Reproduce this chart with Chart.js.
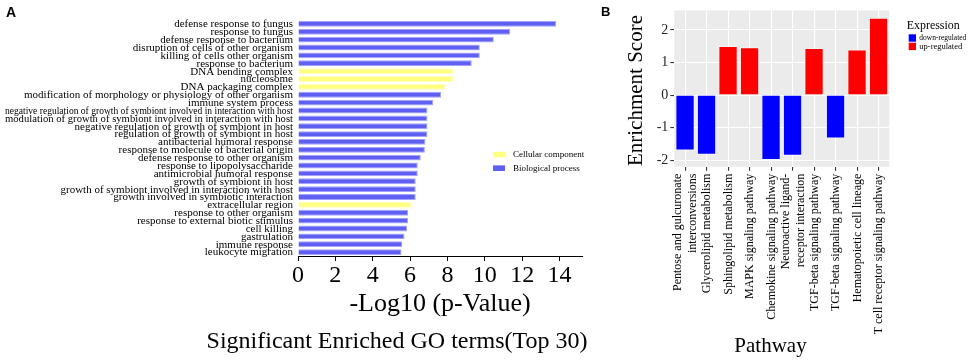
<!DOCTYPE html>
<html><head><meta charset="utf-8">
<script src="https://cdn.jsdelivr.net/npm/chart.js@4.4.1/dist/chart.umd.min.js"></script>
<style>
html,body{margin:0;padding:0;background:#fff;}
#wrap{position:relative;width:970px;height:360px;overflow:hidden;background:#fff;}
#cA{position:absolute;left:0;top:0;}
#cB{position:absolute;left:590px;top:0;}
</style></head><body>
<div id="wrap">
<canvas id="cA" width="590" height="360"></canvas>
<canvas id="cB" width="380" height="360"></canvas>
</div>
<script>
// ---------- Panel A data ----------
const goTerms = [
  "defense response to fungus",
  "response to fungus",
  "defense response to bacterium",
  "disruption of cells of other organism",
  "killing of cells other organism",
  "response to bacterium",
  "DNA bending complex",
  "nucleosome",
  "DNA packaging complex",
  "modification of morphology or physiology of other organism",
  "immune system process",
  "negative regulation of growth of symbiont involved in interaction with host",
  "modulation of growth of symbiont involved in interaction with host",
  "negative regulation of growth of symbiont in host",
  "regulation of growth of symbiont in host",
  "antibacterial humoral response",
  "response to molecule of bacterial origin",
  "defense response to other organism",
  "response to lipopolysaccharide",
  "antimicrobial humoral response",
  "growth of symbiont in host",
  "growth of symbiont involved in interaction with host",
  "growth involved in symbiotic interaction",
  "extracellular region",
  "response to other organism",
  "response to external biotic stimulus",
  "cell killing",
  "gastrulation",
  "immune response",
  "leukocyte migration"
];
const goValues = [13.82, 11.36, 10.48, 9.73, 9.73, 9.30, 8.29, 8.29, 7.88, 7.66,
  7.23, 6.93, 6.93, 6.93, 6.93, 6.82, 6.79, 6.57, 6.41, 6.41,
  6.30, 6.30, 6.30, 6.05, 5.89, 5.89, 5.84, 5.70, 5.57, 5.54];
const goCategories = ["BP","BP","BP","BP","BP","BP","CC","CC","CC","BP",
  "BP","BP","BP","BP","BP","BP","BP","BP","BP","BP",
  "BP","BP","BP","CC","BP","BP","BP","BP","BP","BP"];
const goLegend = [["CC","Cellular component"],["BP","Biological process"]];
const xTicksA = [0, 2, 4, 6, 8, 10, 12, 14];

// ---------- Panel B data ----------
const pathways = [
  ["Pentose and gulcuronate", "interconversions"],
  "Glycerolipid metabolism",
  "Sphingolipid metabolism",
  "MAPK signaling pathway",
  "Chemokine signaling pathway",
  ["Neuroactive ligand-", "receptor interaction"],
  "TGF-beta signaling pathway",
  "TGF-beta signaling pathway",
  "Hematopoietic cell lineage",
  "T cell receptor signaling pathway"
];
const enrichmentScores = [-1.70, -1.83, 1.50, 1.46, -1.99, -1.86, 1.44, -1.33, 1.39, 2.37];
const expression = ["down","down","up","up","down","down","up","down","up","up"];
const expressionLegend = [["down","down-regulated"],["up","up-regulated"]];
const yTicksB = [-2, -1.5, -1, -0.5, 0, 0.5, 1, 1.5, 2, 2.5];

const COL = { BP: "#5f5ff4", CC: "#ffff80", down: "#0000ff", up: "#ff0000" };
const BORDER = { BP: "#a3a3ff", CC: "#ffffb8" };
const SERIF = '"Liberation Serif", "Times New Roman", serif';
const SANS = '"Liberation Sans", Arial, sans-serif';

// ---------- Panel A ----------
const pluginA = {
  id: "pluginA",
  afterDraw(chart) {
    const ctx = chart.ctx, ys = chart.scales.y, area = chart.chartArea;
    ctx.save();
    ctx.font = "11px " + SERIF;
    ctx.fillStyle = "#000";
    ctx.textAlign = "right";
    ctx.textBaseline = "middle";
    goTerms.forEach((t, i) => {
      ctx.fillText(t, area.left - 5, ys.getPixelForValue(i) + 0.5, area.left - 10);
    });
    ctx.textAlign = "left";
    ctx.font = "9px " + SERIF;
    goLegend.forEach(([k, name], i) => {
      const y = 154.5 + i * 13.7;
      ctx.fillStyle = COL[k];
      ctx.fillRect(493, y - 2.8, 12, 5.6);
      ctx.fillStyle = "#000";
      ctx.fillText(name, 513, y + 0.5);
    });
    ctx.textAlign = "center";
    ctx.textBaseline = "middle";
    ctx.font = "24px " + SERIF;
    ctx.fillText("Significant Enriched GO terms(Top 30)", 397, 342);
    ctx.textAlign = "left";
    ctx.textBaseline = "alphabetic";
    ctx.font = "bold 14px " + SANS;
    ctx.fillText("A", 6, 17);
    ctx.restore();
  }
};

new Chart(document.getElementById("cA"), {
  type: "bar",
  data: {
    labels: goTerms,
    datasets: [{
      data: goValues,
      backgroundColor: goCategories.map(c => COL[c]),
      borderColor: goCategories.map(c => BORDER[c]),
      borderWidth: 1,
      barPercentage: 0.74,
      categoryPercentage: 1
    }]
  },
  options: {
    indexAxis: "y",
    responsive: false,
    animation: false,
    layout: { padding: { left: 298, right: 8, top: 20, bottom: 36 } },
    plugins: { legend: { display: false }, tooltip: { enabled: false } },
    scales: {
      y: { display: false },
      x: {
        min: 0, max: 15.2,
        afterBuildTicks: s => { s.ticks = xTicksA.map(v => ({ value: v })); },
        ticks: { font: { family: SERIF, size: 24 }, color: "#000", padding: 0,
                 callback: v => String(v) },
        grid: { drawOnChartArea: false, drawTicks: true, tickLength: 5, color: "#000", lineWidth: 1 },
        border: { color: "#000", width: 1 },
        title: { display: true, text: "-Log10 (p-Value)", color: "#000",
                 font: { family: SERIF, size: 26 }, padding: { top: 0, bottom: 4 } },
        afterFit: s => { s.height = 68; }
      }
    }
  },
  plugins: [pluginA]
});

// ---------- Panel B ----------
const pluginB = {
  id: "pluginB",
  beforeDraw(chart) {
    const ctx = chart.ctx, a = chart.chartArea;
    ctx.save();
    ctx.fillStyle = "#ebebeb";
    ctx.fillRect(a.left, a.top, a.right - a.left, a.bottom - a.top);
    ctx.restore();
  },
  afterDraw(chart) {
    const ctx = chart.ctx, a = chart.chartArea, xs = chart.scales.x;
    ctx.save();
    ctx.fillStyle = "#000";
    ctx.font = "12px " + SERIF;
    ctx.textAlign = "right";
    ctx.textBaseline = "middle";
    const lh = 15;
    pathways.forEach((lab, i) => {
      const lines = Array.isArray(lab) ? lab : [lab];
      const cx = xs.getPixelForValue(i);
      lines.forEach((ln, j) => {
        const off = (j - (lines.length - 1) / 2) * lh;
        ctx.save();
        ctx.translate(cx + off + 0.5, a.bottom + 7);
        ctx.rotate(-Math.PI / 2);
        ctx.fillText(ln, 0, 0);
        ctx.restore();
      });
    });
    ctx.save();
    ctx.translate(52, (a.top + a.bottom) / 2 + 2);
    ctx.rotate(-Math.PI / 2);
    ctx.textAlign = "center";
    ctx.textBaseline = "alphabetic";
    ctx.font = "21px " + SERIF;
    ctx.fillText("Enrichment Score", 0, 0);
    ctx.restore();
    ctx.textAlign = "center";
    ctx.textBaseline = "alphabetic";
    ctx.font = "21px " + SERIF;
    ctx.fillText("Pathway", 180.5, 351.5);
    ctx.textAlign = "left";
    ctx.textBaseline = "middle";
    ctx.font = "13px " + SERIF;
    ctx.fillText("Expression", 316.7, 25.5, 53);
    ctx.font = "8.5px " + SERIF;
    expressionLegend.forEach(([k, name], i) => {
      const y = 34.3 + i * 8.4;
      ctx.fillStyle = COL[k];
      ctx.fillRect(318.7, y, 7.3, 7.4);
      ctx.fillStyle = "#000";
      ctx.fillText(name, 329.3, y + 3.9, 47);
    });
    ctx.textBaseline = "alphabetic";
    ctx.font = "bold 13px " + SANS;
    ctx.fillText("B", 11, 16);
    ctx.restore();
  }
};

new Chart(document.getElementById("cB"), {
  type: "bar",
  data: {
    labels: pathways,
    datasets: [{
      data: enrichmentScores,
      backgroundColor: expression.map(e => COL[e]),
      borderColor: "rgba(255,255,255,0.8)",
      borderWidth: 0.8,
      barPercentage: 0.88,
      categoryPercentage: 1
    }]
  },
  options: {
    responsive: false,
    animation: false,
    layout: { padding: { left: 0, top: 10, right: 80.7, bottom: 0 } },
    plugins: { legend: { display: false }, tooltip: { enabled: false } },
    scales: {
      x: {
        offset: true,
        grid: { offset: false, color: "#ffffff", lineWidth: 1.1, drawTicks: true,
                tickLength: 4, tickColor: "#333333" },
        border: { display: false },
        ticks: { display: false, autoSkip: false },
        afterFit: s => { s.height = 193.3; }
      },
      y: {
        min: -2.2, max: 2.6,
        afterBuildTicks: s => { s.ticks = yTicksB.map(v => ({ value: v })); },
        ticks: { font: { family: SERIF, size: 14 }, color: "#222", padding: 2,
                 callback: v => Number.isInteger(v) ? String(v) : "" },
        grid: {
          color: "#ffffff",
          lineWidth: c => (c.tick && Number.isInteger(c.tick.value)) ? 1.1 : 0.55,
          tickLength: 4,
          tickColor: c => (c.tick && Number.isInteger(c.tick.value)) ? "#333333" : "rgba(0,0,0,0)"
        },
        border: { display: false },
        afterFit: s => { s.width = 84.3; }
      }
    }
  },
  plugins: [pluginB]
});
</script>
</body></html>
